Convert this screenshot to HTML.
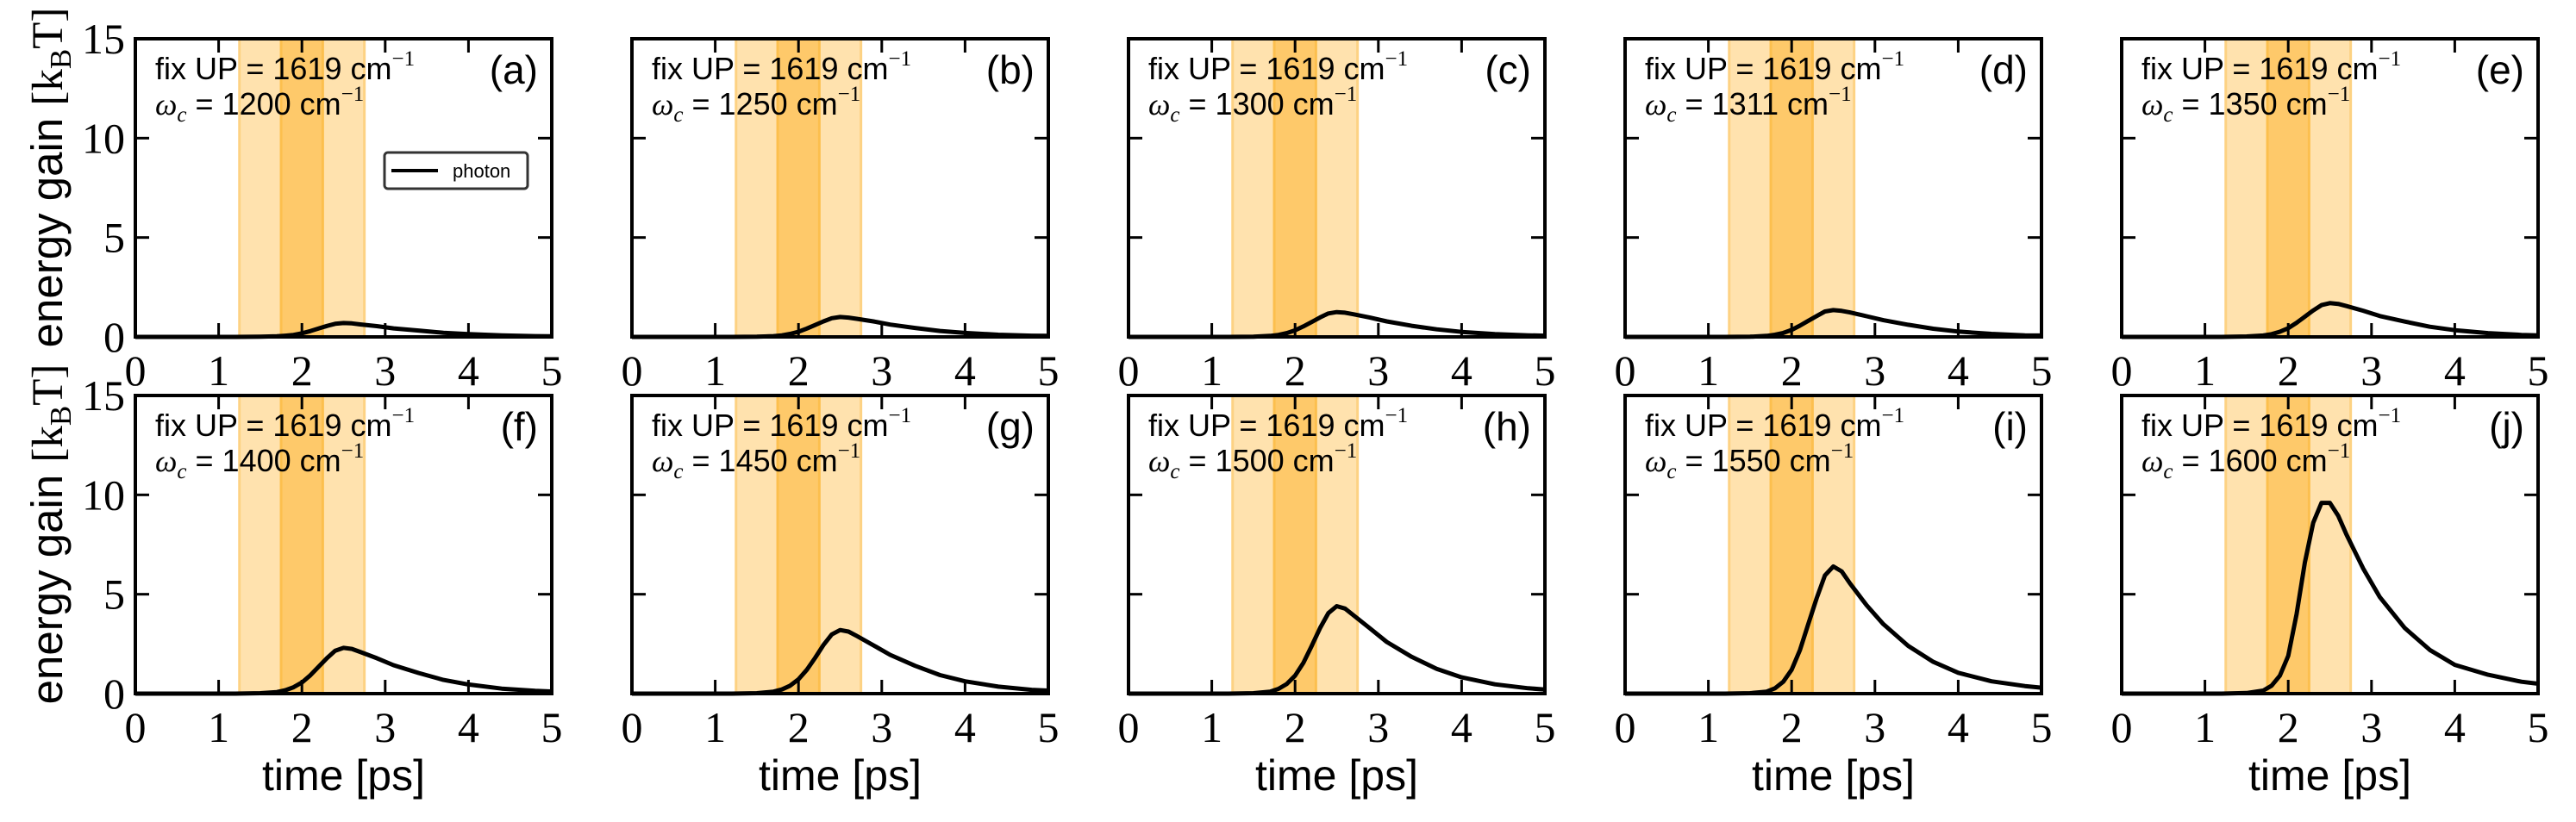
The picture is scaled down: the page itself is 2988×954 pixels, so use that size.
<!DOCTYPE html>
<html><head><meta charset="utf-8"><style>
html,body{margin:0;padding:0;background:#fff;}
svg{display:block;}
</style></head><body>
<svg id="fig" width="2988" height="954" viewBox="0 0 2988 954" xmlns="http://www.w3.org/2000/svg"></svg>
<script>
const times = [0,1.2,1.5,1.7,1.8,1.9,2.0,2.1,2.2,2.3,2.4,2.5,2.6,2.7,2.9,3.1,3.4,3.7,4.0,4.4,4.8,5.0];
const panelLetters = ['a','b','c','d','e','f','g','h','i','j'];
const omegaValues = [1200,1250,1300,1311,1350,1400,1450,1500,1550,1600];
const seriesA = [0,0,0.01,0.03,0.06,0.1,0.18,0.29,0.42,0.55,0.66,0.7,0.68,0.63,0.54,0.43,0.32,0.21,0.14,0.08,0.04,0.03];
const seriesB = [0,0,0.01,0.04,0.08,0.15,0.26,0.42,0.6,0.78,0.94,1.0,0.97,0.91,0.78,0.62,0.45,0.3,0.2,0.11,0.06,0.05];
const seriesC = [0,0,0.01,0.05,0.1,0.19,0.33,0.53,0.75,0.98,1.18,1.25,1.22,1.14,0.97,0.78,0.56,0.38,0.25,0.14,0.08,0.06];
const seriesD = [0,0,0.01,0.05,0.11,0.2,0.35,0.57,0.81,1.05,1.28,1.35,1.31,1.23,1.04,0.84,0.61,0.41,0.27,0.15,0.08,0.07];
const seriesE = [0,0,0.02,0.07,0.14,0.26,0.44,0.71,1.02,1.33,1.6,1.7,1.66,1.55,1.32,1.05,0.77,0.51,0.34,0.19,0.1,0.08];
const seriesF = [0,0,0.02,0.08,0.17,0.32,0.56,0.92,1.35,1.78,2.16,2.3,2.25,2.1,1.78,1.43,1.04,0.69,0.46,0.25,0.14,0.11];
const seriesG = [0,0,0.02,0.1,0.21,0.4,0.72,1.2,1.8,2.45,2.98,3.2,3.12,2.9,2.43,1.95,1.4,0.93,0.62,0.35,0.19,0.15];
const seriesH = [0,0,0.02,0.1,0.24,0.48,0.9,1.55,2.4,3.3,4.05,4.4,4.28,3.95,3.28,2.6,1.85,1.25,0.82,0.47,0.27,0.21];
const seriesI = [0,0,0.02,0.1,0.27,0.6,1.2,2.2,3.5,4.8,5.95,6.4,6.15,5.55,4.45,3.5,2.4,1.6,1.05,0.62,0.38,0.3];
const seriesJ = [0,0,0.03,0.15,0.4,0.9,1.9,4.0,6.6,8.6,9.6,9.6,8.95,8.0,6.3,4.85,3.3,2.2,1.45,0.95,0.6,0.5];
const allSeries = [seriesA,seriesB,seriesC,seriesD,seriesE,seriesF,seriesG,seriesH,seriesI,seriesJ];
const xTicks = [0,1,2,3,4,5];
const yTicks = [0,5,10,15];
const lightBand = [1.25,2.75];
const darkBand = [1.75,2.25];

const NS='http://www.w3.org/2000/svg';
const svg=document.getElementById('fig');
function mk(tag,attrs,parent){const e=document.createElementNS(NS,tag);for(const k in attrs)e.setAttribute(k,attrs[k]);(parent||svg).appendChild(e);return e;}

const lefts=[157,733,1309,1885,2461], W=483;
const tops=[45,459], H=346;
const serif='"Liberation Serif", serif', sans='"Liberation Sans", sans-serif';

for(let p=0;p<10;p++){
  const row=Math.floor(p/5), col=p%5;
  const L=lefts[col], T=tops[row], B=T+H, R=L+W;
  const sx=v=>L+v/5*W, sy=v=>B-v/15*H;
  const g=mk('g',{});
  
  
  const lb=mk('rect',{x:sx(lightBand[0]),y:T,width:sx(lightBand[1])-sx(lightBand[0]),height:H,fill:'#ffe2ae',stroke:'#fdd283','stroke-width':3},g);
  
  
  const db=mk('rect',{x:sx(darkBand[0]),y:T,width:sx(darkBand[1])-sx(darkBand[0]),height:H,fill:'#fec96a',stroke:'#fcbf4e','stroke-width':3},g);
  
  
  const s=allSeries[p];
  let d='';
  for(let i=0;i<times.length;i++){d+=(i?'L':'M')+sx(times[i]).toFixed(1)+','+sy(s[i]).toFixed(1);}
  const ln=mk('path',{d:d,fill:'none',stroke:'#000','stroke-width':5,'stroke-linejoin':'round'},g);
  
  
  xTicks.forEach(v=>{
    mk('line',{x1:sx(v),x2:sx(v),y1:B,y2:B-16,stroke:'#000','stroke-width':3},g);
    mk('line',{x1:sx(v),x2:sx(v),y1:T,y2:T+16,stroke:'#000','stroke-width':3},g);
    const t=mk('text',{x:sx(v),y:B+56,'font-family':serif,'font-size':50,'text-anchor':'middle'},g);
    t.textContent=v;
    
    
  });
  yTicks.forEach(v=>{
    mk('line',{x1:L,x2:L+16,y1:sy(v),y2:sy(v),stroke:'#000','stroke-width':3},g);
    mk('line',{x1:R,x2:R-16,y1:sy(v),y2:sy(v),stroke:'#000','stroke-width':3},g);
    if(col===0){
      const t=mk('text',{x:L-12,y:sy(v)+17,'font-family':serif,'font-size':50,'text-anchor':'end'},g);
      t.textContent=v;
      
      
    }
  });
  const fr=mk('rect',{x:L,y:T,width:W,height:H,fill:'none',stroke:'#000','stroke-width':4},g);
  
  
  const a1=mk('text',{x:L+23,y:T+47,'font-family':sans,'font-size':36},g);
  
  
  a1.innerHTML='fix UP = 1619 cm<tspan font-family=\'"Liberation Serif", serif\' font-size="25" dy="-16">−1</tspan>';
  const a2=mk('text',{x:L+23,y:T+88,'font-family':sans,'font-size':36},g);
  
  
  a2.innerHTML='<tspan font-family=\'"Liberation Serif", serif\' font-style="italic">ω</tspan><tspan font-family=\'"Liberation Serif", serif\' font-style="italic" font-size="25" dy="8">c</tspan><tspan dy="-8"> = '+omegaValues[p]+' cm</tspan><tspan font-family=\'"Liberation Serif", serif\' font-size="25" dy="-16">−1</tspan>';
  const pl=mk('text',{x:R-16,y:T+52,'font-family':sans,'font-size':46,'text-anchor':'end'},g);
  pl.textContent='('+panelLetters[p]+')';
  
  
  if(row===1){
    const xl=mk('text',{x:L+W/2,y:917,'font-family':sans,'font-size':50,'text-anchor':'middle'},g);
    xl.textContent='time [ps]';
    
    
  }
  if(col===0){
    const cy=T+H/2-12;
    const yl=mk('text',{x:0,y:0,transform:'translate(72,'+cy+') rotate(-90)','font-family':sans,'font-size':51,'text-anchor':'middle'},g);
    
    
    yl.innerHTML='energy gain <tspan font-family=\'"Liberation Serif", serif\'>[k<tspan font-size="35" dy="10">B</tspan><tspan dy="-10">T]</tspan></tspan>';
  }
  if(p===0){
    const lg=mk('g',{},g);
    
    
    mk('rect',{x:446,y:177,width:166,height:42,rx:4,fill:'#fff',stroke:'#333','stroke-width':3},lg);
    mk('line',{x1:454,x2:508,y1:198,y2:198,stroke:'#000','stroke-width':4},lg);
    const lt=mk('text',{x:525,y:206,'font-family':sans,'font-size':22},lg);
    lt.textContent='photon';
    
    
  }
}
</script>
</body></html>
